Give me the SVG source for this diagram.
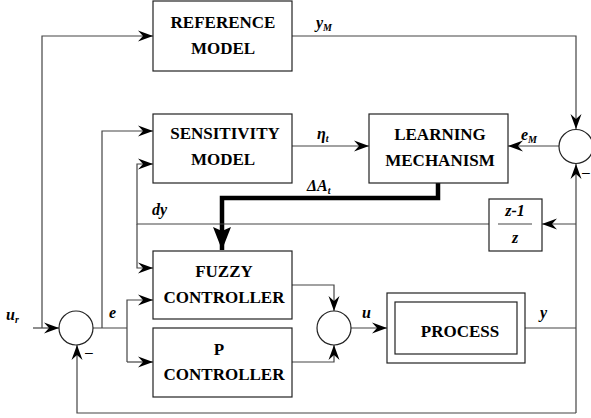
<svg xmlns="http://www.w3.org/2000/svg" width="591" height="418" viewBox="0 0 591 418">
<style>
.box{fill:#fff;stroke:#222;stroke-width:1.2}
.ln{fill:none;stroke:#444;stroke-width:1.2}
.t{font-family:'Liberation Serif','Times New Roman','DejaVu Serif',serif;font-weight:bold;font-size:17px;fill:#000;text-anchor:middle}
.l{font-family:'Liberation Serif','Times New Roman','DejaVu Serif',serif;font-weight:bold;font-style:italic;font-size:16px;fill:#000}
.s{font-size:10px}
</style>
<defs>
<marker id="a" markerUnits="userSpaceOnUse" markerWidth="16" markerHeight="12" viewBox="-15 -6 16 12" refX="0" refY="0" orient="auto">
<path d="M0,0 L-15,-5.5 L-10,0 L-15,5.5 z" fill="#000"/>
</marker>
<marker id="b" markerUnits="userSpaceOnUse" markerWidth="26" markerHeight="22" viewBox="-24 -10 26 20" refX="0" refY="0" orient="auto">
<path d="M0,0 L-23,-9 L-19,0 L-23,9 z" fill="#000"/>
</marker>
</defs>
<g id="connectors">
<path class="ln" d="M42,328 V36 H153" marker-end="url(#a)"/>
<path class="ln" d="M33,328 H59" marker-end="url(#a)"/>
<path class="ln" d="M292,36 H576 V129" marker-end="url(#a)"/>
<path class="ln" d="M576,413 V164" marker-end="url(#a)"/>
<path class="ln" d="M559,146 H508" marker-end="url(#a)"/>
<path class="ln" d="M292,146 H369" marker-end="url(#a)"/>
<path fill="none" stroke="#000" stroke-width="4.5" d="M438,183 V198 H222 V250" marker-end="url(#b)"/>
<path class="ln" d="M93,328 H127"/>
<path class="ln" d="M102,328 V131 H153" marker-end="url(#a)"/>
<path class="ln" d="M127,362 V300 H153" marker-end="url(#a)"/>
<path class="ln" d="M127,362 H153" marker-end="url(#a)"/>
<path class="ln" d="M489,224 H137 V164 H153" marker-end="url(#a)"/>
<path class="ln" d="M137,224 V268 H153" marker-end="url(#a)"/>
<path class="ln" d="M576,224 H542" marker-end="url(#a)"/>
<path class="ln" d="M292,285 H334 V311" marker-end="url(#a)"/>
<path class="ln" d="M292,362 H334 V345" marker-end="url(#a)"/>
<path class="ln" d="M351,328 H387" marker-end="url(#a)"/>
<path class="ln" d="M525,328 H576"/>
<path class="ln" d="M576,413 H77 V345" marker-end="url(#a)"/>
<text class="l" x="316" y="28">y<tspan class="s" dy="3">M</tspan></text>
<text class="l" x="317" y="139">η<tspan class="s" dy="3">t</tspan></text>
<text class="l" x="521" y="140">e<tspan class="s" dy="3">M</tspan></text>
<text class="l" x="307" y="191">ΔA<tspan class="s" dy="3">t</tspan></text>
<text class="l" x="152" y="215">dy</text>
<text class="l" x="6" y="320">u<tspan class="s" dy="3">r</tspan></text>
<text class="l" x="109" y="318">e</text>
<text class="l" x="362" y="318">u</text>
<text class="l" x="540" y="318">y</text>
<text x="85" y="357" font-family="Liberation Sans, sans-serif" font-size="14">–</text>
<text x="582" y="177" font-family="Liberation Sans, sans-serif" font-size="14">–</text>
</g>
<g id="reference-model">
<rect class="box" x="153" y="1" width="139" height="70"/>
<text class="t" x="223" y="28">REFERENCE</text>
<text class="t" x="223" y="54">MODEL</text>
</g>
<g id="sensitivity-model">
<rect class="box" x="153" y="114" width="139" height="69"/>
<text class="t" x="225" y="139">SENSITIVITY</text>
<text class="t" x="223" y="165">MODEL</text>
</g>
<g id="learning-mechanism">
<rect class="box" x="369" y="114" width="139" height="69"/>
<text class="t" x="440" y="140">LEARNING</text>
<text class="t" x="440" y="166">MECHANISM</text>
</g>
<g id="fuzzy-controller">
<rect class="box" x="153" y="251" width="139" height="68"/>
<text class="t" x="224" y="277">FUZZY</text>
<text class="t" x="224" y="303">CONTROLLER</text>
</g>
<g id="p-controller">
<rect class="box" x="153" y="328" width="139" height="69"/>
<text class="t" x="219" y="355">P</text>
<text class="t" x="224" y="380">CONTROLLER</text>
</g>
<g id="process">
<rect class="box" x="387" y="293" width="138" height="70"/>
<rect class="box" x="395" y="302" width="122" height="52"/>
<text class="t" x="460" y="337">PROCESS</text>
</g>
<g id="diff-z">
<rect class="box" x="489" y="199" width="53" height="52"/>
<line x1="498" y1="224" x2="532" y2="224" stroke="#444" stroke-width="1.2"/>
<text class="l" x="515" y="216" text-anchor="middle">z-1</text>
<text class="l" x="515" y="243" text-anchor="middle">z</text>
</g>
<g id="sum-error">
<circle class="box" cx="76" cy="328" r="17"/>
</g>
<g id="sum-u">
<circle class="box" cx="334" cy="328" r="17"/>
</g>
<g id="sum-model">
<circle class="box" cx="576" cy="146.5" r="17"/>
</g>
</svg>
